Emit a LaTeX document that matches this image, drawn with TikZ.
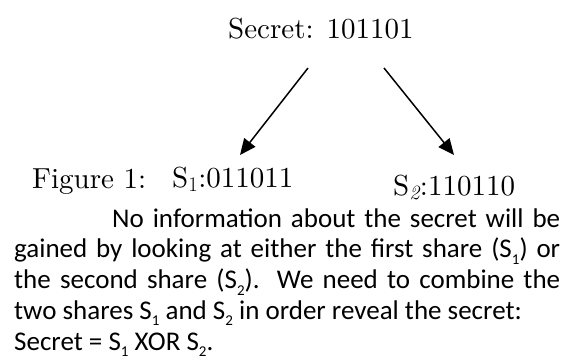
\documentclass[tikz,border=0pt]{standalone}
\usepackage{fontspec}
\newfontfamily\bodyfont{Carlito}
\newfontfamily\cmr{lmroman10-regular}[Extension=.otf]
\usetikzlibrary{arrows.meta}
% small lowered index for the body text
\newcommand\shareidx[1]{\raisebox{-0.24em}{\fontsize{15}{15}\selectfont #1}}
\begin{document}
\begin{tikzpicture}[x=1pt,y=-1pt,
  serif/.style={inner sep=0pt,anchor=base west,font=\cmr\fontsize{29}{34}\selectfont},
  share/.style={line width=1.5pt,-{Triangle[length=16pt,width=14pt]}}]
\useasboundingbox (0,0) rectangle (577,360);
% secret and its two shares
\node[serif] (secret) at (228,38) {Secret: 101101};
\node[serif] (fig) at (32,188) {Figure 1:};
\node[serif] (s1) at (172,187) {S$_1$:011011};
\node[serif] (s2) at (393,195) {S$_{\mathit{2}}$:110110};
\coordinate (l0) at (308,68);
\coordinate (r0) at (384,68);
\coordinate (l1) at (240,155);
\coordinate (r1) at (454,155);
\draw[share] (l0) -- (l1);
\draw[share] (r0) -- (r1);
% explanation below the figure
\node[inner sep=0pt,anchor=base west] (text) at (14,227) {\parbox[t]{546pt}{%
  \bodyfont\fontsize{27}{30.8}\selectfont\sloppy\parindent=0pt
  \hspace*{98pt}No information about the secret will be\linebreak
  gained by looking at either the first share (S\shareidx{1}) or\linebreak
  the second share (S\shareidx{2}). We need to combine the\linebreak
  two shares S\shareidx{1} and S\shareidx{2} in order reveal the secret:\newline
  Secret = S\shareidx{1} XOR S\shareidx{2}.}};
\end{tikzpicture}
\end{document}
